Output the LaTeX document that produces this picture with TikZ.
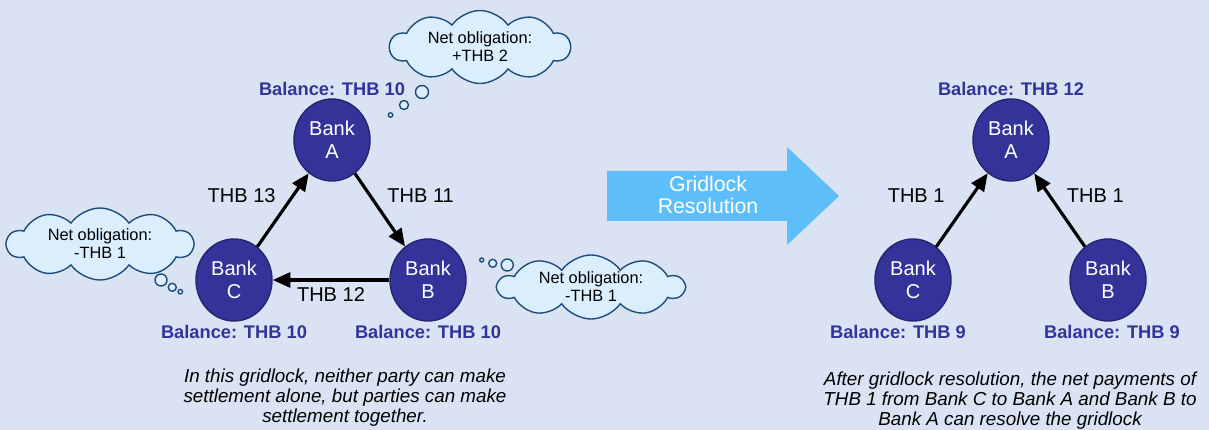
\documentclass[tikz,border=0pt]{standalone}
\usepackage{fontspec}
\setmainfont{Liberation Sans}
\usetikzlibrary{arrows.meta,shapes.geometric,shapes.symbols}

\definecolor{bgblue}{RGB}{218,227,243}
\definecolor{bankblue}{RGB}{51,51,153}
\definecolor{bankedge}{RGB}{38,38,110}
\definecolor{cloudfill}{RGB}{218,238,253}
\definecolor{cloudedge}{RGB}{31,78,121}
\definecolor{arrowblue}{RGB}{94,190,250}

\begin{document}
\begin{tikzpicture}[>={Triangle[length=10pt,width=8.5pt]},auto,node distance=3.88cm,
	bank/.style={ellipse,fill=bankblue,draw=bankedge,thick,text=white,minimum width=1.52cm,minimum height=1.64cm,inner sep=0pt,align=center,font=\fontsize{11.4}{13}\selectfont},
	balance/.style={text=bankblue,font=\fontsize{10.4}{12}\selectfont\bfseries},
	pay/.style={->,line width=1.8pt},
	amount/.style={font=\fontsize{11.4}{13}\selectfont},
	note/.style={cloud,cloud puffs=10,cloud puff arc=110,cloud ignores aspect,fill=cloudfill,draw=cloudedge,thick,align=center,inner sep=0pt,font=\fontsize{9.3}{10.3}\selectfont},
	puff/.style={fill=cloudfill,draw=cloudedge,thick},
	caption/.style={align=center,font=\fontsize{10.7}{11.4}\selectfont\itshape}]

\useasboundingbox (0,0) rectangle (24.18,8.6);
\fill[bgblue] (0,0) rectangle (24.18,8.6);

% gridlock
\node[bank]   (c1) at (4.68,3.0)     {Bank\\C};
 \node[bank]  (b1) [right of=c1]     {Bank\\B};
	\node[bank] (a1) at (6.64,5.8)     {Bank\\A};

\node[balance] (bal-a1) [above of=a1,node distance=1.02cm] {Balance: THB 10};
\node[balance] (bal-c1) [below of=c1,node distance=1.04cm] {Balance: THB 10};
\node[balance] (bal-b1) [below of=b1,node distance=1.04cm] {Balance: THB 10};

	\path[pay] (c1) edge  node[amount]{THB 13}  (a1)
	           (a1) edge  node[amount]{THB 11}  (b1)
	           (b1) edge  node[amount]{THB 12}  (c1);

% thought clouds
\node[note,minimum width=3.6cm,minimum height=1.46cm]  (ob-a1) at (9.6,7.66)  {Net obligation:\\+THB 2};
\node[note,minimum width=3.72cm,minimum height=1.44cm] (ob-c1) at (2.0,3.72)  {Net obligation:\\-THB 1};
\node[note,minimum width=3.72cm,minimum height=1.26cm] (ob-b1) at (11.82,2.86) {Net obligation:\\-THB 1};

\draw[puff] (8.44,6.76) circle (0.13) (8.08,6.50) circle (0.09) (7.81,6.30) circle (0.045);
\draw[puff] (3.22,3.0) circle (0.12) (3.446,2.854) circle (0.08) (3.606,2.766) circle (0.045);
\draw[puff] (9.634,3.40) circle (0.04) (9.854,3.334) circle (0.08) (10.146,3.30) circle (0.12);

% resolution arrow
\fill[arrowblue] (12.14,5.18) -- (15.74,5.18) -- (15.74,5.66) -- (16.78,4.68) -- (15.74,3.70) -- (15.74,4.18) -- (12.14,4.18) -- cycle;
\node[text=white,align=center,font=\fontsize{12.1}{12.6}\selectfont] (res) at (14.16,4.70) {Gridlock\\Resolution};

% resolved
\node[bank]   (c2) at (18.26,3.0)              {Bank\\C};
 \node[bank]  (b2) [right of=c2,node distance=3.9cm] {Bank\\B};
	\node[bank] (a2) at (20.22,5.8)              {Bank\\A};

\node[balance] (bal-a2) [above of=a2,node distance=1.02cm] {Balance: THB 12};
\node[balance] (bal-c2) [below of=c2,node distance=1.04cm,xshift=-0.3cm] {Balance: THB 9};
\node[balance] (bal-b2) [below of=b2,node distance=1.04cm,xshift=0.08cm] {Balance: THB 9};

	\path[pay] (c2) edge        node[amount,xshift=-0.2cm]{THB 1}  (a2)
	           (b2) edge[swap]  node[amount]{THB 1}  (a2);

% captions
\node[caption] (cap1) at (6.9,0.64) {In this gridlock, neither party can make\\settlement alone, but parties can make\\settlement together.};
\node[caption] (cap2) at (20.2,0.58) {After gridlock resolution, the net payments of\\THB 1 from Bank C to Bank A and Bank B to\\Bank A can resolve the gridlock};

\end{tikzpicture}
\end{document}
